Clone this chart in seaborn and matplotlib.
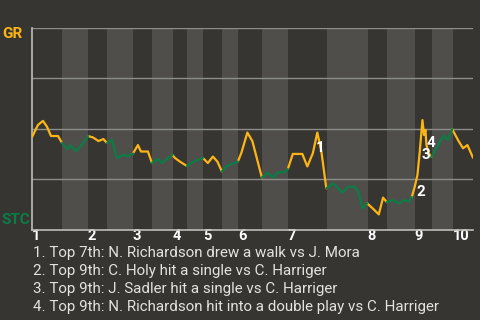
import matplotlib
matplotlib.use("Agg")
import matplotlib.pyplot as plt
import seaborn as sns
import pandas as pd

# ---- data ----
# one list per half-inning: event positions (game progress) and GR win prob
half_t = [
    [0, 6, 11, 15, 19, 26, 30],
    [35.3, 38.7, 44.3, 51, 56],
    [61, 66.5, 71.5, 75],
    [80, 85, 92, 96, 101],
    [106, 109, 116, 120],
    [126, 130, 135, 140.5],
    [143, 148, 155],
    [161, 166, 171],
    [176, 181, 185.5, 190],
    [194.5, 200, 206],
    [209.5, 215.5, 220.5, 230],
    [236, 241, 246, 253, 256],
    [261, 270.5, 275.5, 281, 285.5, 289.5, 294.5],
    [301.3, 310.7, 316.3, 323, 326.3, 330.7, 335.3],
    [341.3, 347, 351.3, 355],
    [361.3, 367.3, 373, 377.3, 380],
    [383, 385.7, 388, 390.7, 392.3, 393.7, 394.7, 397, 399.7],
    [404.7, 408, 412.3, 416.3, 420.5],
    [426.3, 431.3, 435.7, 441.3],
]
half_wp = [
    [0.459, 0.519, 0.539, 0.510, 0.464, 0.464, 0.430],
    [0.398, 0.417, 0.390, 0.427, 0.464],
    [0.457, 0.439, 0.449, 0.429],
    [0.444, 0.355, 0.372, 0.362, 0.377],
    [0.419, 0.387, 0.387, 0.330],
    [0.350, 0.330, 0.350, 0.370],
    [0.355, 0.337, 0.315],
    [0.335, 0.345, 0.355],
    [0.330, 0.362, 0.337, 0.288],
    [0.313, 0.325, 0.337],
    [0.380, 0.481, 0.439, 0.258],
    [0.280, 0.258, 0.283, 0.285, 0.300],
    [0.375, 0.375, 0.313, 0.378, 0.481, 0.390, 0.204],
    [0.229, 0.183, 0.212, 0.212, 0.188, 0.105, 0.130],
    [0.103, 0.075, 0.158, 0.136],
    [0.146, 0.130, 0.146, 0.138, 0.161],
    [0.212, 0.270, 0.386, 0.543, 0.469, 0.494, 0.419, 0.378, 0.361],
    [0.403, 0.436, 0.466, 0.444, 0.498],
    [0.444, 0.403, 0.419, 0.356],
]
half_bounds = [0, 30, 56, 75, 101, 120, 141, 155, 171, 190, 206, 230, 256,
               295, 336, 355, 383, 400, 421, 441.3]
inning_labels = ["1", "2", "3", "4", "5", "6", "7", "8", "9", "10"]

events_num = ["1", "2", "3", "4"]
events_t = [288.5, 389, 394, 399]
events_wp = [0.404, 0.186, 0.370, 0.428]
event_text = [
    "1. Top 7th: N. Richardson drew a walk vs J. Mora",
    "2. Top 9th: C. Holy hit a single vs C. Harriger",
    "3. Top 9th: J. Sadler hit a single vs C. Harriger",
    "4. Top 9th: N. Richardson hit into a double play vs C. Harriger",
]
team_top = "GR"
team_bottom = "STC"

# ---- styling ----
BG = "#373531"
BAND = "#4f4e4b"
ORANGE = "#fdb515"
GREEN = "#0a7d47"
GRID = "#8c8c8a"

sns.set_theme(style="dark")
plt.rcParams["font.family"] = ["Roboto", "DejaVu Sans"]

# build long table: each half-inning segment includes previous end point
rows = []
prev = None
for h, (ts, ws) in enumerate(zip(half_t, half_wp)):
    side = "top" if h % 2 == 0 else "bottom"
    pts = list(zip(ts, ws))
    if prev is not None:
        pts = [prev] + pts
    for t, w in pts:
        rows.append({"t": t, "wp": w, "seg": h, "side": side})
    prev = (ts[-1], ws[-1])
df = pd.DataFrame(rows)

fig = plt.figure(figsize=(4.8, 3.2), dpi=100, facecolor=BG)
ax = fig.add_axes([32 / 480, 1 - 229.5 / 320, 441 / 480, 201.5 / 320])
ax.set_facecolor(BG)

for i in range(1, len(half_bounds) - 1, 2):
    ax.axvspan(half_bounds[i], half_bounds[i + 1], color=BAND, lw=0, zorder=0)

sns.lineplot(data=df, x="t", y="wp", hue="side", units="seg", estimator=None,
             sort=False, palette={"top": ORANGE, "bottom": GREEN},
             legend=False, linewidth=1.6, ax=ax, zorder=3)

for n, t, w in zip(events_num, events_t, events_wp):
    ax.text(t, w, n, color="white", fontsize=11, fontweight="bold",
            ha="center", va="center", zorder=4)

ax.set_xlim(half_bounds[0], half_bounds[-1])
ax.set_ylim(0, 1)
ax.set_yticks([0.25, 0.5, 0.75, 1.0])
ax.set_yticklabels([])
ax.yaxis.grid(True, color=GRID, lw=1.0, zorder=1)
ax.xaxis.grid(False)
ax.set_xticks(half_bounds[0:-1:2])
ax.set_xticklabels(inning_labels, fontsize=10.5, fontweight="bold", color="white")
for lab in ax.get_xticklabels():
    lab.set_ha("left")
ax.tick_params(axis="x", length=0, pad=0)
ax.tick_params(axis="y", length=0)
ax.set_xlabel("")
ax.set_ylabel("")
for s in ["top", "right"]:
    ax.spines[s].set_visible(False)
for s in ["left", "bottom"]:
    ax.spines[s].set_visible(True)
    ax.spines[s].set_color("#bdbdbb")
    ax.spines[s].set_linewidth(1.2)

fig.text(2 / 480, 1 - 34 / 320, team_top, color=ORANGE, fontsize=11,
         fontweight="bold", ha="left", va="center")
fig.text(2 / 480, 1 - 219.5 / 320, team_bottom, color=GREEN, fontsize=11,
         fontweight="bold", ha="left", va="center")

for i, line in enumerate(event_text):
    fig.text(33 / 480, 1 - (253.5 + i * 17.7) / 320, line, color="#e2e2e0",
             fontsize=10.9, ha="left", va="center")

fig.savefig("out.png", dpi=100, facecolor=BG)
